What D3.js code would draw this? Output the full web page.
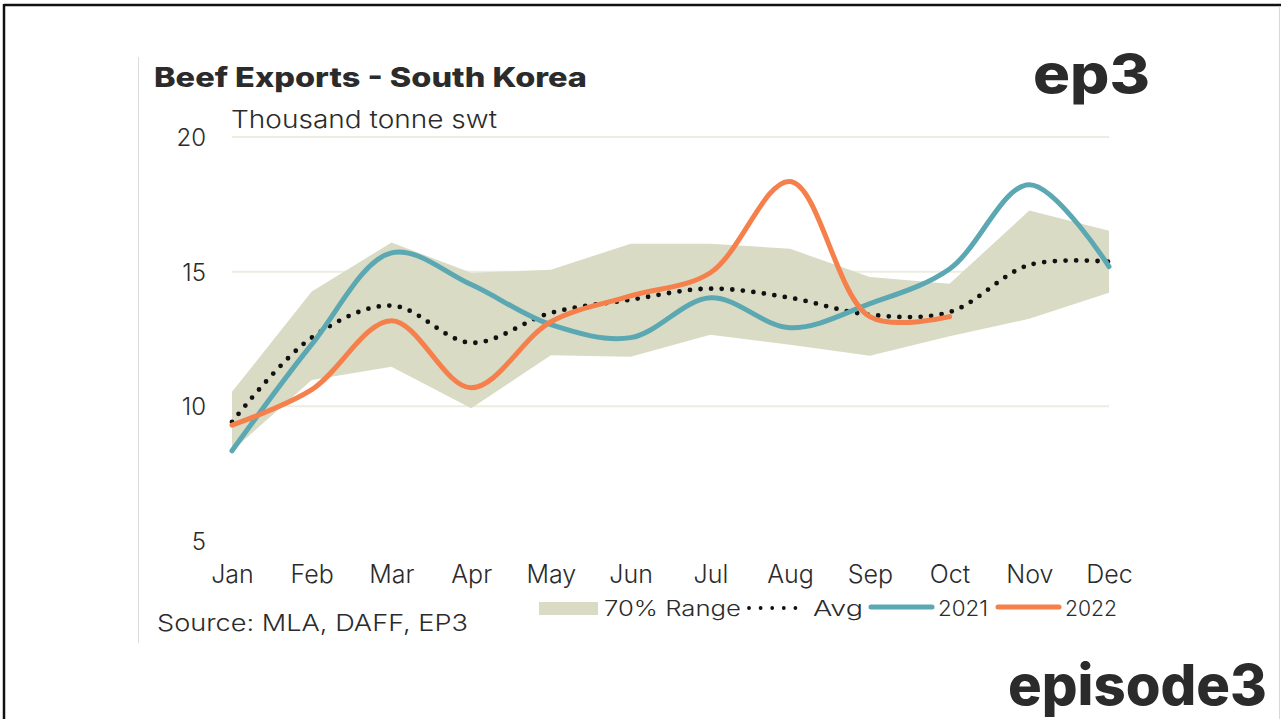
<!DOCTYPE html>
<html>
<head>
<meta charset="utf-8">
<script src="https://cdn.jsdelivr.net/npm/d3@7"></script>
<style>
  html, body { margin: 0; padding: 0; background: #fff; }
  svg { display: block; }
  text { font-family: Inter, "Noto Sans", sans-serif; fill: #2b2b2b; }
</style>
</head>
<body>
<svg id="chart" width="1281" height="719"></svg>
<script>
// ---- data ----
const months = ["Jan","Feb","Mar","Apr","May","Jun","Jul","Aug","Sep","Oct","Nov","Dec"];
const rangeLow  = [8.35, 10.98, 11.47, 9.93, 11.9, 11.84, 12.66, 12.29, 11.88, 12.6, 13.25, 14.22];
const rangeHigh = [10.54, 14.26, 16.08, 14.96, 15.07, 16.04, 16.04, 15.85, 14.8, 14.55, 17.27, 16.52];
const avg       = [9.42, 12.55, 13.74, 12.36, 13.47, 13.96, 14.37, 14.03, 13.4, 13.5, 15.25, 15.37];
const y2021     = [8.35, 12.3, 15.7, 14.52, 13.03, 12.55, 14.03, 12.92, 13.81, 15.1, 18.23, 15.19];
const y2022     = [9.3, 10.62, 13.18, 10.69, 13.14, 14.1, 14.96, 18.35, 13.33, 13.33];
const yTicks    = [5, 10, 15, 20];
const legendLabels = ["70% Range", "Avg", "2021", "2022"];

// ---- styles ----
const C = { band: "#d9dbc5", blue: "#5ba8b2", orange: "#f5804b", grid: "#ececdf", text: "#2b2b2b" };
const FW = 350;

const svg = d3.select("#chart");

// outer frame
svg.append("line").attr("x1", 4).attr("x2", 1281).attr("y1", 5).attr("y2", 5)
  .attr("stroke", "#111").attr("stroke-width", 2.5);
svg.append("line").attr("x1", 4).attr("x2", 4).attr("y1", 4).attr("y2", 719)
  .attr("stroke", "#111").attr("stroke-width", 2.5);
svg.append("line").attr("x1", 1279.5).attr("x2", 1279.5).attr("y1", 6).attr("y2", 719)
  .attr("stroke", "#d8d8d8").attr("stroke-width", 1);
// inner chart left edge
svg.append("line").attr("x1", 138.5).attr("x2", 138.5).attr("y1", 57).attr("y2", 643)
  .attr("stroke", "#dcdcdc").attr("stroke-width", 1);

const x = d3.scalePoint().domain(months).range([232, 1109]);
const y = d3.scaleLinear().domain([5, 20]).range([541, 137]);

// gridlines
svg.append("g").selectAll("line").data(yTicks.filter(d => d > 5)).join("line")
  .attr("x1", 232).attr("x2", 1109)
  .attr("y1", d => y(d)).attr("y2", d => y(d))
  .attr("stroke", C.grid).attr("stroke-width", 2);

// y axis labels
const yAxis = d3.axisLeft(y).tickValues(yTicks).tickSize(0).tickPadding(0);
const gy = svg.append("g").attr("transform", "translate(206,0)").call(yAxis);
gy.select(".domain").remove();
gy.selectAll("text").attr("font-size", 24).attr("fill", C.text).attr("font-weight", FW)
  .style("font-family", "Inter, sans-serif").attr("dy", "0.35em");

// x axis labels
const xAxis = d3.axisBottom(x).tickSize(0).tickPadding(0);
const gx = svg.append("g").attr("transform", "translate(0,565)").call(xAxis);
gx.select(".domain").remove();
gx.selectAll("text").attr("font-size", 25).attr("fill", C.text).attr("font-weight", FW)
  .style("font-family", "Inter, sans-serif").attr("dy", "0.7em");

// band
const area = d3.area().x((d, i) => x(months[i])).y0((d, i) => y(rangeLow[i])).y1(d => y(d));
svg.append("path").datum(rangeHigh).attr("d", area).attr("fill", C.band);

const curve = d3.curveCatmullRom.alpha(0.5);
const line = d3.line().x((d, i) => x(months[i])).y(d => y(d)).curve(curve);

svg.append("path").datum(avg).attr("d", line).attr("fill", "none")
  .attr("stroke", "#111").attr("stroke-width", 4.8).attr("stroke-linecap", "round")
  .attr("stroke-dasharray", "0,10.6");
svg.append("path").datum(y2021).attr("d", line).attr("fill", "none")
  .attr("stroke", C.blue).attr("stroke-width", 5).attr("stroke-linecap", "round");
svg.append("path").datum(y2022).attr("d", line).attr("fill", "none")
  .attr("stroke", C.orange).attr("stroke-width", 5).attr("stroke-linecap", "round");

// titles
svg.append("text").attr("x", 154).attr("y", 87).text("Beef Exports - South Korea")
  .attr("font-size", 27).attr("font-weight", 800).attr("fill", "#222")
  .attr("textLength", 433).attr("lengthAdjust", "spacingAndGlyphs");
svg.append("text").attr("x", 231).attr("y", 128).text("Thousand tonne swt")
  .attr("font-size", 24).attr("font-weight", FW).attr("fill", C.text)
  .attr("textLength", 266).attr("lengthAdjust", "spacingAndGlyphs");
svg.append("text").attr("x", 157).attr("y", 631).text("Source: MLA, DAFF, EP3")
  .attr("font-size", 23).attr("font-weight", FW).attr("fill", C.text)
  .attr("textLength", 311).attr("lengthAdjust", "spacingAndGlyphs");

// legend
const lg = svg.append("g").attr("font-weight", FW);
lg.append("rect").attr("x", 539).attr("y", 602).attr("width", 59).attr("height", 13).attr("fill", C.band);
lg.append("text").attr("x", 604).attr("y", 616).text(legendLabels[0]).attr("font-size", 21)
  .attr("textLength", 137).attr("lengthAdjust", "spacingAndGlyphs");
lg.append("line").attr("x1", 749).attr("x2", 807).attr("y1", 608).attr("y2", 608)
  .attr("stroke", "#111").attr("stroke-width", 3.8).attr("stroke-linecap", "round")
  .attr("stroke-dasharray", "0,11.6");
lg.append("text").attr("x", 813).attr("y", 616).text(legendLabels[1]).attr("font-size", 21)
  .attr("textLength", 50).attr("lengthAdjust", "spacingAndGlyphs");
lg.append("line").attr("x1", 871).attr("x2", 932).attr("y1", 607).attr("y2", 607)
  .attr("stroke", C.blue).attr("stroke-width", 5).attr("stroke-linecap", "round");
lg.append("text").attr("x", 938).attr("y", 616).text(legendLabels[2]).attr("font-size", 21)
  .attr("textLength", 50).attr("lengthAdjust", "spacingAndGlyphs");
lg.append("line").attr("x1", 998).attr("x2", 1059).attr("y1", 607).attr("y2", 607)
  .attr("stroke", C.orange).attr("stroke-width", 5).attr("stroke-linecap", "round");
lg.append("text").attr("x", 1065).attr("y", 616).text(legendLabels[3]).attr("font-size", 21)
  .attr("textLength", 52).attr("lengthAdjust", "spacingAndGlyphs");

// logos
svg.append("text").attr("x", 1033).attr("y", 93).text("ep3")
  .attr("font-size", 54).attr("font-weight", 800)
  .attr("fill", "#2a2a2a").attr("textLength", 117).attr("lengthAdjust", "spacingAndGlyphs");
svg.append("text").attr("x", 1008).attr("y", 705).text("episode3")
  .attr("font-size", 56).attr("font-weight", 800)
  .attr("fill", "#000").attr("textLength", 259).attr("lengthAdjust", "spacingAndGlyphs");
</script>
</body>
</html>
